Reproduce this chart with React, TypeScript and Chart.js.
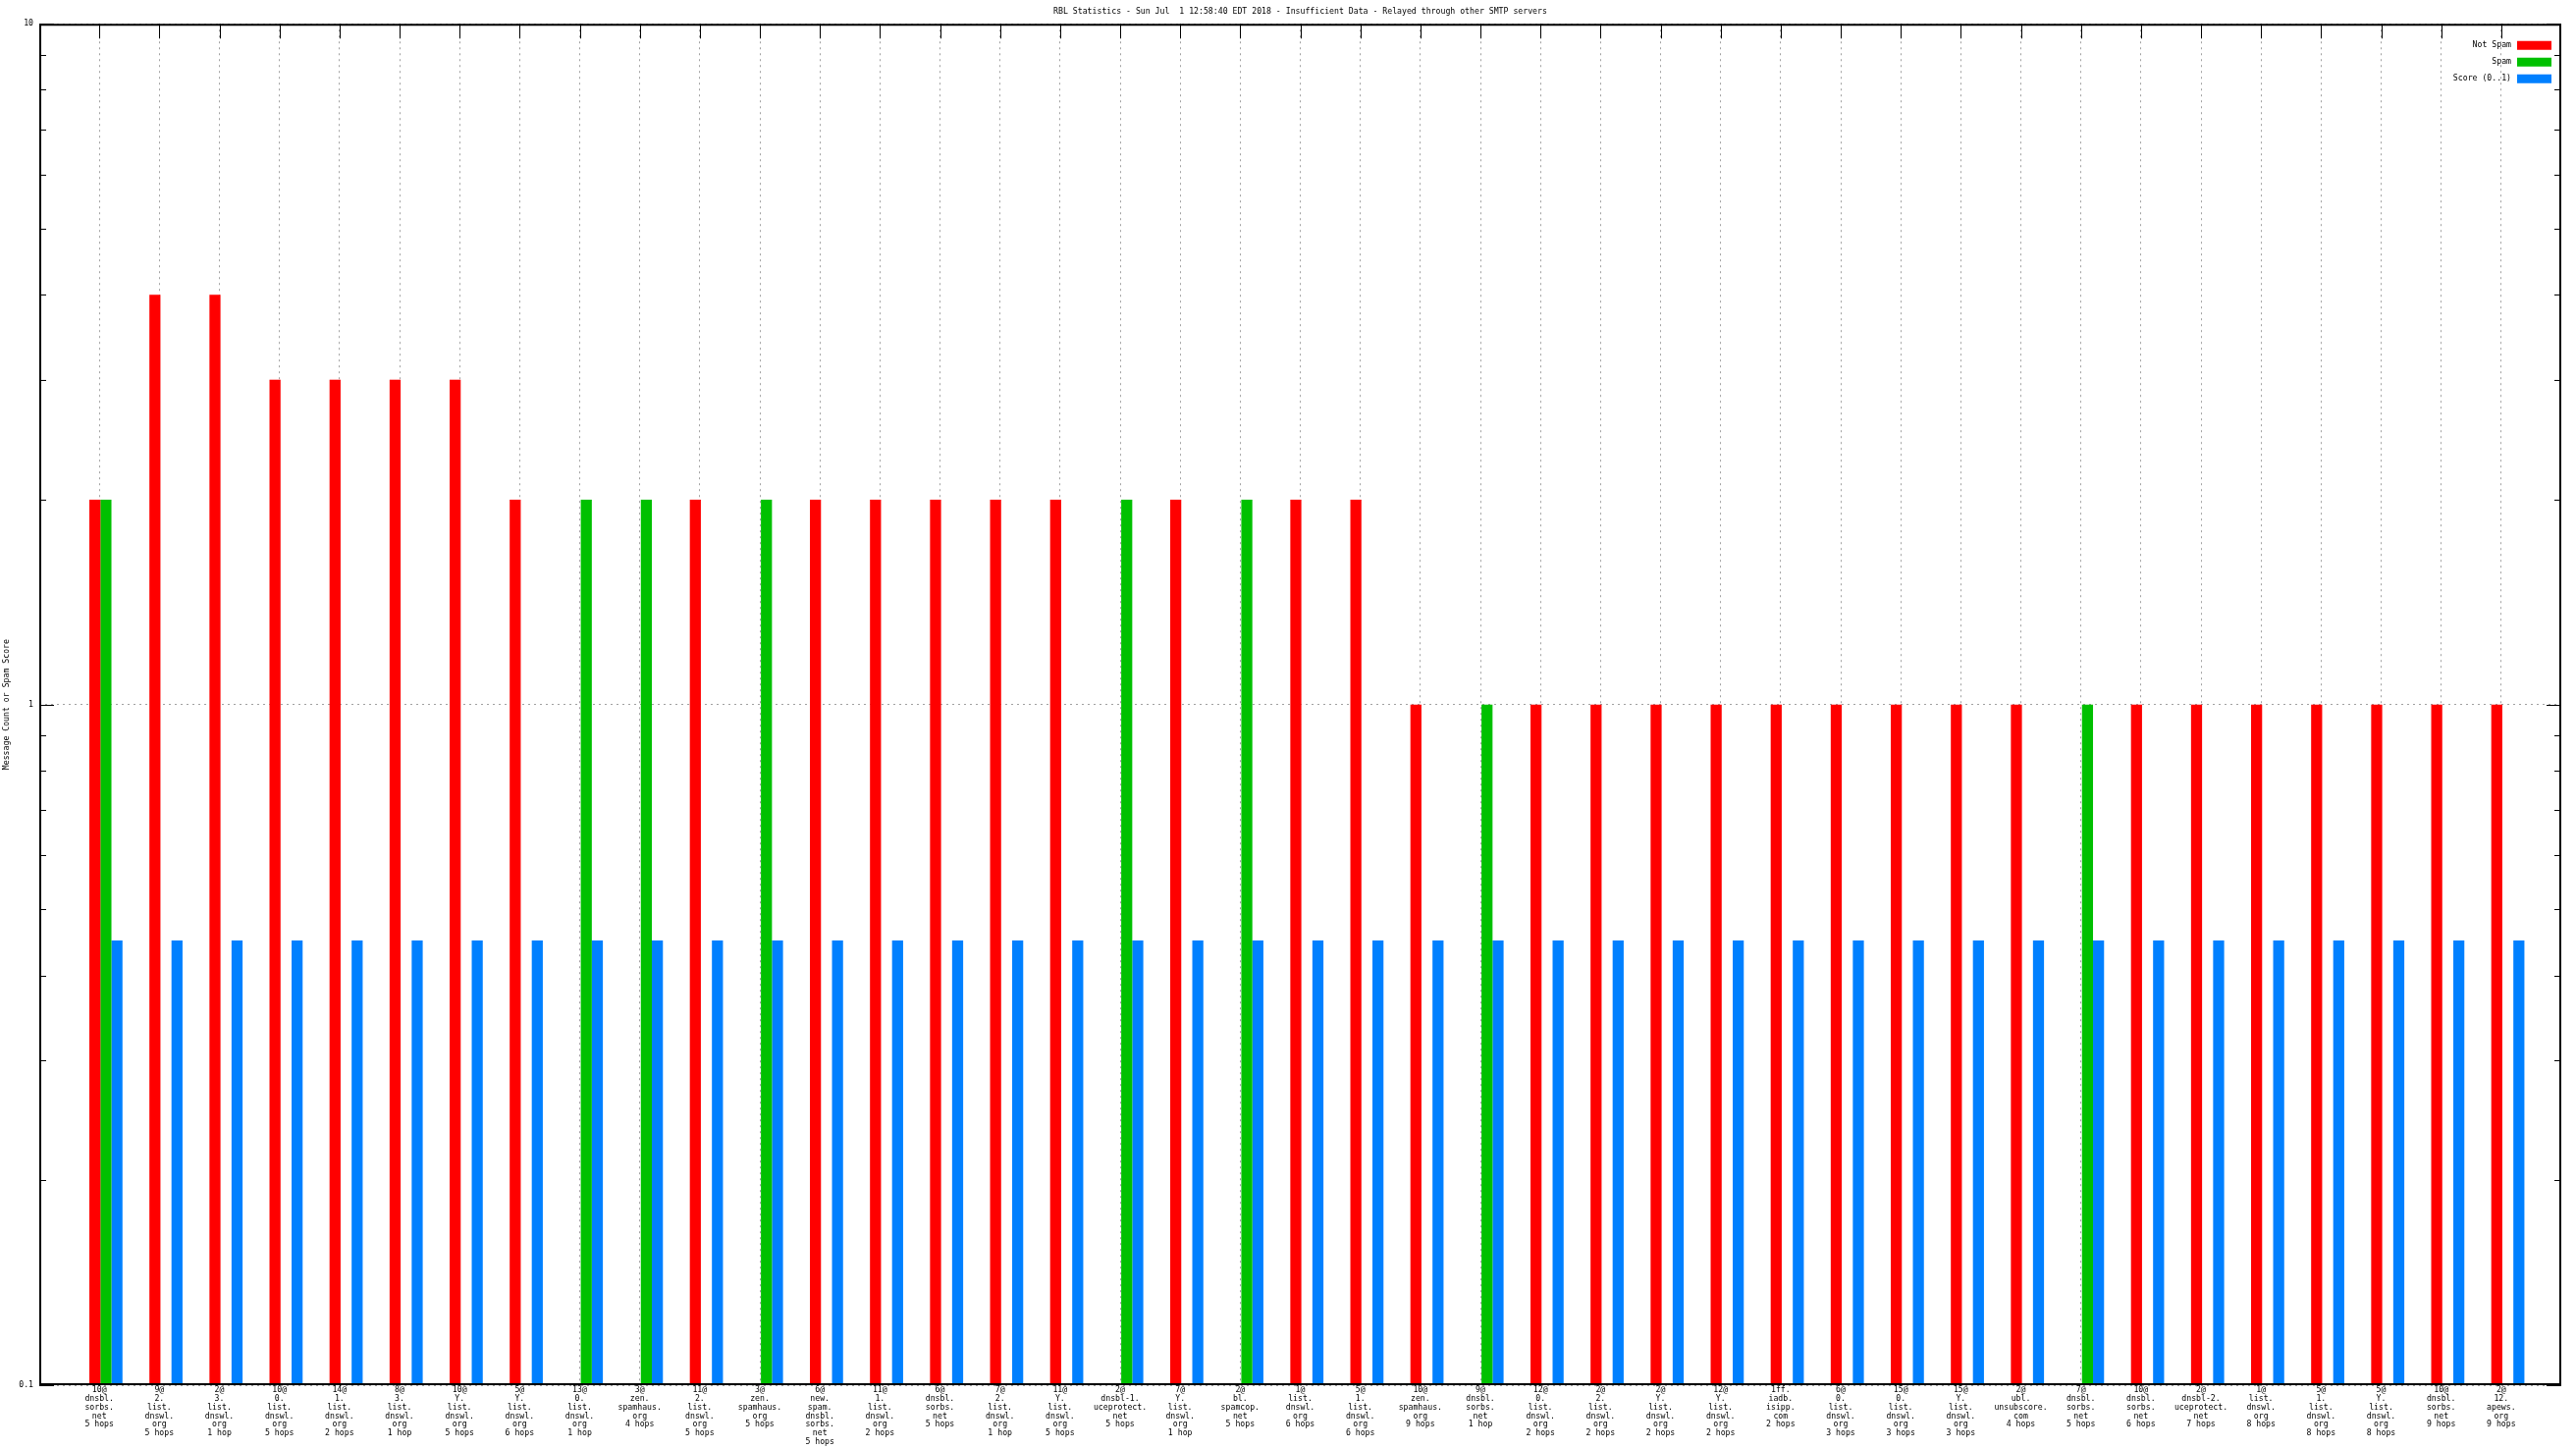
import { useEffect, useRef } from 'react';
import { Chart, registerables } from 'chart.js';

Chart.register(...registerables);

const FONT = "'DejaVu Sans Mono', 'Liberation Mono', monospace";

const titleText =
  'RBL Statistics - Sun Jul  1 12:58:40 EDT 2018 - Insufficient Data - Relayed through other SMTP servers';
const yAxisTitle = 'Message Count or Spam Score';

const categories = [
  '10@\ndnsbl.\nsorbs.\nnet\n5 hops',
  '9@\n2.\nlist.\ndnswl.\norg\n5 hops',
  '2@\n3.\nlist.\ndnswl.\norg\n1 hop',
  '10@\n0.\nlist.\ndnswl.\norg\n5 hops',
  '14@\n1.\nlist.\ndnswl.\norg\n2 hops',
  '8@\n3.\nlist.\ndnswl.\norg\n1 hop',
  '10@\nY.\nlist.\ndnswl.\norg\n5 hops',
  '5@\nY.\nlist.\ndnswl.\norg\n6 hops',
  '13@\n0.\nlist.\ndnswl.\norg\n1 hop',
  '3@\nzen.\nspamhaus.\norg\n4 hops',
  '11@\n2.\nlist.\ndnswl.\norg\n5 hops',
  '3@\nzen.\nspamhaus.\norg\n5 hops',
  '6@\nnew.\nspam.\ndnsbl.\nsorbs.\nnet\n5 hops',
  '11@\n1.\nlist.\ndnswl.\norg\n2 hops',
  '6@\ndnsbl.\nsorbs.\nnet\n5 hops',
  '7@\n2.\nlist.\ndnswl.\norg\n1 hop',
  '11@\nY.\nlist.\ndnswl.\norg\n5 hops',
  '2@\ndnsbl-1.\nuceprotect.\nnet\n5 hops',
  '7@\nY.\nlist.\ndnswl.\norg\n1 hop',
  '2@\nbl.\nspamcop.\nnet\n5 hops',
  '1@\nlist.\ndnswl.\norg\n6 hops',
  '5@\n1.\nlist.\ndnswl.\norg\n6 hops',
  '10@\nzen.\nspamhaus.\norg\n9 hops',
  '9@\ndnsbl.\nsorbs.\nnet\n1 hop',
  '12@\n0.\nlist.\ndnswl.\norg\n2 hops',
  '2@\n2.\nlist.\ndnswl.\norg\n2 hops',
  '2@\nY.\nlist.\ndnswl.\norg\n2 hops',
  '12@\nY.\nlist.\ndnswl.\norg\n2 hops',
  '1ff.\niadb.\nisipp.\ncom\n2 hops',
  '6@\n0.\nlist.\ndnswl.\norg\n3 hops',
  '15@\n0.\nlist.\ndnswl.\norg\n3 hops',
  '15@\nY.\nlist.\ndnswl.\norg\n3 hops',
  '2@\nubl.\nunsubscore.\ncom\n4 hops',
  '7@\ndnsbl.\nsorbs.\nnet\n5 hops',
  '10@\ndnsbl.\nsorbs.\nnet\n6 hops',
  '2@\ndnsbl-2.\nuceprotect.\nnet\n7 hops',
  '1@\nlist.\ndnswl.\norg\n8 hops',
  '5@\n1.\nlist.\ndnswl.\norg\n8 hops',
  '5@\nY.\nlist.\ndnswl.\norg\n8 hops',
  '10@\ndnsbl.\nsorbs.\nnet\n9 hops',
  '2@\n12.\napews.\norg\n9 hops',
];

const notSpam = [
  2, 4, 4, 3, 3, 3, 3, 2, null, null, 2, null, 2, 2, 2, 2, 2, null, 2, null, 2,
  2, 1, null, 1, 1, 1, 1, 1, 1, 1, 1, 1, null, 1, 1, 1, 1, 1, 1, 1,
];

const spam = [
  2, null, null, null, null, null, null, null, 2, 2, null, 2, null, null, null,
  null, null, 2, null, 2, null, null, null, 1, null, null, null, null, null,
  null, null, null, null, 1, null, null, null, null, null, null, null,
];

const score = [
  0.45, 0.45, 0.45, 0.45, 0.45, 0.45, 0.45, 0.45, 0.45, 0.45, 0.45, 0.45, 0.45,
  0.45, 0.45, 0.45, 0.45, 0.45, 0.45, 0.45, 0.45, 0.45, 0.45, 0.45, 0.45, 0.45,
  0.45, 0.45, 0.45, 0.45, 0.45, 0.45, 0.45, 0.45, 0.45, 0.45, 0.45, 0.45, 0.45,
  0.45, 0.45,
];

const seriesLabels = ['Not Spam', 'Spam', 'Score (0..1)'];
const seriesColors = ['#ff0000', '#00c000', '#0080ff'];

const yMajor = [0.1, 1, 10];
const yMinorDecades = [0.1, 1];
const yMinorMultipliers = [2, 3, 4, 5, 6, 7, 8, 9];

const BAR_SHIFT = 0.11;

const framePlugin = {
  id: 'gnuFrame',
  afterDatasetsDraw(chart: any) {
    const { ctx, chartArea: a, scales } = chart;
    const ys = scales.y;
    const xs = scales.x;
    ctx.save();
    ctx.strokeStyle = '#000';
    ctx.lineWidth = 1;
    ctx.beginPath();
    for (const v of yMajor) {
      const p = Math.round(ys.getPixelForValue(v)) + 0.5;
      ctx.moveTo(a.left, p);
      ctx.lineTo(a.left + 15, p);
      ctx.moveTo(a.right, p);
      ctx.lineTo(a.right - 15, p);
    }
    for (const d of yMinorDecades) {
      for (const m of yMinorMultipliers) {
        const p = Math.round(ys.getPixelForValue(d * m)) + 0.5;
        ctx.moveTo(a.left, p);
        ctx.lineTo(a.left + 7, p);
        ctx.moveTo(a.right, p);
        ctx.lineTo(a.right - 7, p);
      }
    }
    categories.forEach((_, i) => {
      const p = Math.round(xs.getPixelForValue(i)) + 0.5;
      ctx.moveTo(p, a.top);
      ctx.lineTo(p, a.top + 15);
    });
    ctx.stroke();
    ctx.lineWidth = 2;
    ctx.strokeRect(a.left + 1, a.top + 1, a.right - a.left - 2, a.bottom - a.top - 2);

    // legend (top right, inside the plot)
    ctx.font = `8.2px ${FONT}`;
    ctx.textAlign = 'right';
    ctx.textBaseline = 'middle';
    chart.data.datasets.forEach((ds: any, k: number) => {
      const cy = a.top + 22 + k * 17;
      ctx.fillStyle = '#000';
      ctx.fillText(ds.label, a.right - 51, cy);
      ctx.fillStyle = ds.backgroundColor;
      ctx.fillRect(a.right - 45, cy - 4.5, 35, 9);
    });
    ctx.restore();
  },
};

export default function App() {
  const ref = useRef<HTMLCanvasElement>(null);

  useEffect(() => {
    document.body.style.margin = '0';
    const seriesValues = [notSpam, spam, score];
    const chart = new Chart(ref.current as HTMLCanvasElement, {
      type: 'bar',
      data: {
        datasets: seriesValues.map((vals, k) => ({
          label: seriesLabels[k],
          data: vals.map((v, i) => ({ x: i, y: v })) as any,
          backgroundColor: seriesColors[k],
          borderWidth: 0,
          xAxisID: 'xb',
          yAxisID: 'y',
          categoryPercentage: 0.62,
          barPercentage: 1,
        })),
      },
      options: {
        animation: false,
        responsive: false,
        maintainAspectRatio: false,
        layout: { padding: { left: 0, right: 15, top: 0, bottom: 0 } },
        plugins: {
          legend: { display: false },
          tooltip: { enabled: false },
          title: {
            display: true,
            text: titleText,
            fullSize: false,
            color: '#000',
            font: { family: FONT, size: 8.2, weight: 'normal', lineHeight: 1.25 },
            padding: { top: 7, bottom: 7 },
          },
        },
        scales: {
          x: {
            type: 'linear',
            position: 'bottom',
            offset: false,
            min: -1,
            max: categories.length,
            afterBuildTicks: (s: any) => {
              s.ticks = categories.map((_, i) => ({ value: i }));
            },
            afterFit: (s: any) => {
              s.height = 65;
            },
            grid: { color: '#a0a0a0', lineWidth: 1, drawTicks: false, offset: false },
            border: { display: false, dash: [2, 4] },
            ticks: {
              autoSkip: false,
              maxRotation: 0,
              minRotation: 0,
              padding: 1,
              color: '#000',
              font: { family: FONT, size: 8.2, lineHeight: 1.06 },
              callback: (v: any) => {
                const c = categories[Math.round(Number(v))];
                return c ? c.split('\n') : '';
              },
            },
          },
          xb: {
            type: 'linear',
            display: false,
            offset: false,
            min: -1 - BAR_SHIFT,
            max: categories.length - BAR_SHIFT,
            grid: { offset: false },
          },
          y: {
            type: 'logarithmic',
            position: 'left',
            min: 0.1,
            max: 10,
            afterBuildTicks: (s: any) => {
              s.ticks = yMajor.map((v) => ({ value: v }));
            },
            afterFit: (s: any) => {
              s.width = 40;
            },
            title: {
              display: true,
              text: yAxisTitle,
              color: '#000',
              font: { family: FONT, size: 8.2, lineHeight: 1.2 },
              padding: { top: 2, bottom: 0 },
            },
            grid: { color: '#a0a0a0', lineWidth: 1, drawTicks: false },
            border: { display: false, dash: [2, 4] },
            ticks: {
              padding: 6,
              color: '#000',
              font: { family: FONT, size: 8.2 },
              callback: (v: any) => String(v),
            },
          },
        },
      } as any,
      plugins: [framePlugin],
    });
    return () => chart.destroy();
  }, []);

  return (
    <canvas
      ref={ref}
      width={2624}
      height={1476}
      style={{ display: 'block', width: 2624, height: 1476 }}
    />
  );
}
